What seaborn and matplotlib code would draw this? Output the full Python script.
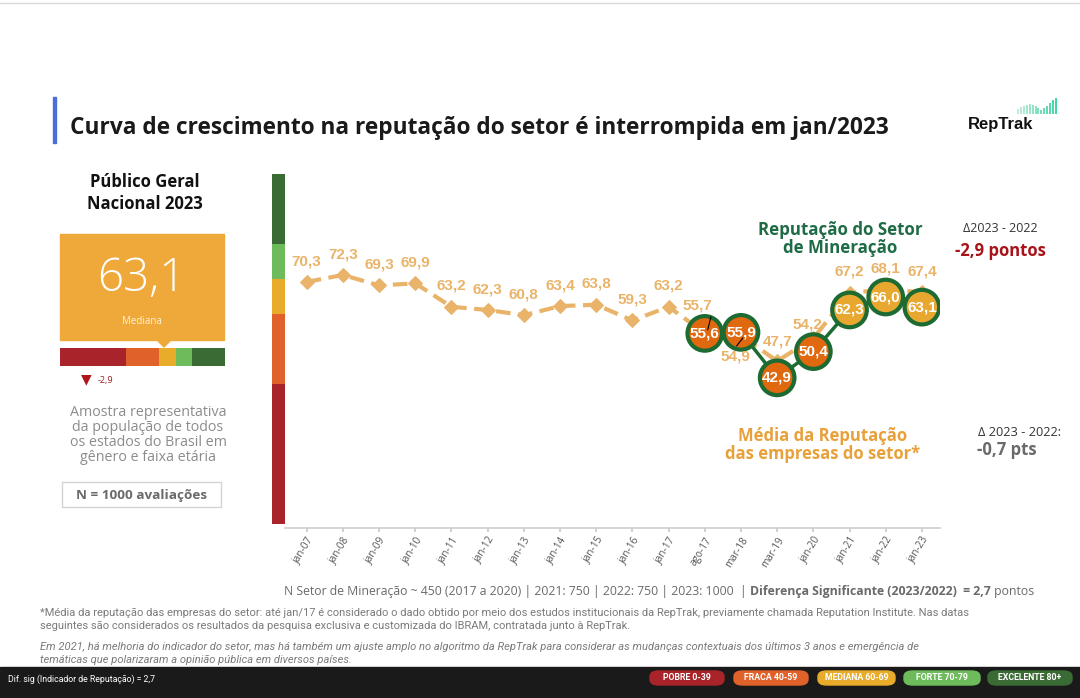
import matplotlib
matplotlib.use("Agg")
import matplotlib.pyplot as plt
import matplotlib.patches as mpatches
import seaborn as sns
import pandas as pd
import numpy as np

# ---- data ----
periods = ["jan-07", "jan-08", "jan-09", "jan-10", "jan-11", "jan-12", "jan-13",
           "jan-14", "jan-15", "jan-16", "jan-17", "ago-17", "mar-18", "mar-19",
           "jan-20", "jan-21", "jan-22", "jan-23"]
media_empresas = [70.3, 72.3, 69.3, 69.9, 63.2, 62.3, 60.8, 63.4, 63.8, 59.3,
                  63.2, 55.7, 54.9, 47.7, 54.2, 67.2, 68.1, 67.4]
setor_periods = ["ago-17", "mar-18", "mar-19", "jan-20", "jan-21", "jan-22", "jan-23"]
setor_mineracao = [55.6, 55.9, 42.9, 50.4, 62.3, 66.0, 63.1]

band_names = ["POBRE", "FRACA", "MEDIANA", "FORTE", "EXCELENTE"]
band_ranges = ["0-39", "40-59", "60-69", "70-79", "80+"]
band_low = [0, 40, 60, 70, 80]
band_high = [40, 60, 70, 80, 100]
band_colors = ["#a8232a", "#e0622a", "#e8ab2a", "#6dbb5b", "#3b6b35"]

publico_geral = 63.1
delta_publico = -2.9

TAN = "#e9b46a"
GREEN = "#1d6b32"

sns.set_theme(style="white")
plt.rcParams["font.family"] = ["Open Sans", "DejaVu Sans"]

W, H = 1080, 698
fig = plt.figure(figsize=(W / 100, H / 100), dpi=100)


def fx(px):
    return px / W


def fy(py):
    return 1 - py / H


# ---- main chart ----
ax = fig.add_axes([fx(285), fy(528), fx(655), 350 / H])
df_avg = pd.DataFrame({"pos": np.arange(len(periods)), "valor": media_empresas})
pos_lookup = {p: i for i, p in enumerate(periods)}
df_set = pd.DataFrame({"pos": [pos_lookup[p] for p in setor_periods],
                       "valor": setor_mineracao})
df_set["faixa"] = np.where(df_set["valor"] >= 60, "mediana", "fraca")

sns.lineplot(data=df_avg, x="pos", y="valor", ax=ax, color=TAN, linewidth=3,
             linestyle=(0, (3.5, 1.8)), marker="D", markersize=7,
             markeredgecolor=TAN, zorder=2)
sns.lineplot(data=df_set, x="pos", y="valor", ax=ax, color=GREEN, linewidth=2.5,
             zorder=3)
sns.scatterplot(data=df_set, x="pos", y="valor", hue="faixa", ax=ax,
                palette={"fraca": "#e0680e", "mediana": "#e8a830"}, s=620,
                edgecolor=GREEN, linewidth=3, legend=False, zorder=4)

special = {11: (-5, 15), 12: (-4, -10), 13: (0, 9), 14: (-4, 5)}
for i, v in enumerate(media_empresas):
    dx, dy = special.get(i, (0, 10))
    ax.annotate(f"{v:.1f}".replace(".", ","), (i, v), xytext=(dx, dy),
                textcoords="offset points", ha="center",
                va="bottom" if dy > 0 else "top",
                fontsize=11, fontweight="bold", color=TAN,
                family=["Liberation Sans", "DejaVu Sans"], zorder=5)

# thin leader lines from the two crowded labels into their circles
ax.plot([11.17, 11.08], [media_empresas[11] + 4.6, media_empresas[11] + 0.9],
        color="black", lw=0.8, zorder=7)
ax.plot([12.05, 11.88], [media_empresas[12] - 0.6, media_empresas[12] - 2.9],
        color="black", lw=0.8, zorder=7)

for p, v in zip(df_set["pos"], setor_mineracao):
    ax.text(p, v, f"{v:.1f}".replace(".", ","), ha="center", va="center",
            fontsize=11, fontweight="bold", color="white",
            family=["Liberation Sans", "DejaVu Sans"], zorder=8)

ax.set_xlim(-0.6, 17.5)
ax.set_ylim(0, 100)
ax.set_xticks(range(len(periods)))
ax.set_xticklabels(periods, rotation=58, ha="right", rotation_mode="anchor",
                   fontsize=7.2, color="#555555")
ax.tick_params(axis="x", length=3, color="#cccccc", pad=2, bottom=True)
ax.set_yticks([])
ax.set_xlabel("")
ax.set_ylabel("")
for s in ["top", "right", "left"]:
    ax.spines[s].set_visible(False)
ax.spines["bottom"].set_color("#d0d0d0")

# reputation scale band on the left of the chart
band_ax = fig.add_axes([fx(272), fy(524), fx(13), 350 / H])
band_ax.bar([0] * len(band_low), np.subtract(band_high, band_low), bottom=band_low,
            color=band_colors, width=1.0, linewidth=0)
band_ax.set_xlim(-0.5, 0.5)
band_ax.set_ylim(0, 100)
band_ax.axis("off")

# ---- header ----
fig.add_artist(mpatches.Rectangle((fx(53), fy(143)), fx(3), 46 / H,
                                  color="#4a6fd8", transform=fig.transFigure))
fig.add_artist(plt.Line2D([0, 1], [fy(3), fy(3)], color="#d8d8d8", linewidth=1))
fig.text(fx(70), fy(128), "Curva de crescimento na reputação do setor é interrompida em jan/2023",
         fontsize=16.3, fontweight="bold", color="#1a1a1a", va="center")
fig.text(fx(968), fy(124), "RepTrak", fontsize=12, fontweight="bold", color="#111111",
         va="center", family=["Liberation Sans", "DejaVu Sans"])
logo_ax = fig.add_axes([fx(1015), fy(114), fx(44), 17 / H])
logo_heights = [5, 7, 9, 10, 11, 10, 8, 6, 4, 6, 9, 12, 15, 17]
logo_ax.vlines(range(len(logo_heights)), 0, logo_heights,
               colors=sns.light_palette("#3fd6a0", len(logo_heights) + 4)[4:], linewidth=1.4)
logo_ax.set_xlim(-1, len(logo_heights))
logo_ax.set_ylim(0, 18)
logo_ax.axis("off")

# ---- left panel ----
fig.text(fx(145), fy(193), "Público Geral\nNacional 2023", ha="center", va="center",
         fontsize=12, fontweight="bold", color="#111111", linespacing=1.25)
fig.add_artist(mpatches.Rectangle((fx(60), fy(340)), fx(164), 106 / H,
                                  color="#efa93a", transform=fig.transFigure))
fig.add_artist(mpatches.Polygon([(fx(157), fy(340)), (fx(171), fy(340)), (fx(164), fy(347))],
                                closed=True, color="#efa93a", transform=fig.transFigure))
fig.text(fx(141), fy(279), f"{publico_geral:.1f}".replace(".", ","), ha="center",
         va="center", fontsize=33, color="white", fontweight="light")
fig.text(fx(142), fy(322), "Mediana", ha="center", va="center", fontsize=7, color="#fff3dc")

scale_ax = fig.add_axes([fx(60), fy(366), fx(165), 18 / H])
scale_ax.barh([0] * len(band_low), np.subtract(band_high, band_low), left=band_low,
              color=band_colors, height=1.0, linewidth=0)
scale_ax.set_xlim(0, 100)
scale_ax.set_ylim(-0.5, 0.5)
scale_ax.axis("off")

fig.text(fx(86), fy(380), "▼", ha="center", va="center", fontsize=10, color="#b0141c")
fig.text(fx(98), fy(381), f"{delta_publico:.1f}".replace(".", ","), ha="left",
         va="center", fontsize=6.5, color="#9a1a1a")
fig.text(fx(148), fy(435), "Amostra representativa\nda população de todos\nos estados do Brasil em\ngênero e faixa etária",
         ha="center", va="center", fontsize=10.3, color="#8c8c8c", linespacing=1.02)
fig.add_artist(mpatches.Rectangle((fx(62), fy(507)), fx(159), 25 / H, fc="white",
                                  ec="#d4d4d4", lw=1, transform=fig.transFigure))
fig.text(fx(142), fy(495), "N = 1000 avaliações", ha="center", va="center", fontsize=9.7,
         fontweight="bold", color="#6a6a6a")

# ---- right annotations ----
fig.text(fx(840), fy(239), "Reputação do Setor\nde Mineração", ha="center", va="center",
         fontsize=12.2, fontweight="bold", color="#1e6b45", linespacing=1.05)
fig.text(fx(1000), fy(228), "Δ2023 - 2022", ha="center", va="center", fontsize=9,
         color="#333333")
fig.text(fx(1000), fy(251), "-2,9 pontos", ha="center", va="center", fontsize=12,
         fontweight="bold", color="#a8131a")
fig.text(fx(823), fy(445), "Média da Reputação\ndas empresas do setor*", ha="center",
         va="center", fontsize=12, fontweight="bold", color="#e8a13a", linespacing=1.05)
fig.text(fx(1020), fy(433), "Δ 2023 - 2022:", ha="center", va="center", fontsize=9.2,
         color="#333333")
fig.text(fx(1007), fy(450), "-0,7 pts", ha="center", va="center", fontsize=12,
         fontweight="bold", color="#6a6a6a")

# ---- notes ----
NOTE = 8.8
t1 = fig.text(fx(284), fy(591), "N Setor de Mineração ~ 450 (2017 a 2020) | 2021: 750 | 2022: 750 | 2023: 1000  | ",
              va="center", fontsize=NOTE, color="#6a6a6a")
fig.canvas.draw()
bb = t1.get_window_extent()
t2 = fig.text(bb.x1 / W, fy(591), "Diferença Significante (2023/2022)  = 2,7", va="center",
              fontsize=NOTE, color="#6a6a6a", fontweight="bold")
fig.canvas.draw()
bb2 = t2.get_window_extent()
fig.text(bb2.x1 / W, fy(591), " pontos", va="center", fontsize=NOTE, color="#6a6a6a")

footnotes = [
    ("*Média da reputação das empresas do setor: até jan/17 é considerado o dado obtido por meio dos estudos institucionais da RepTrak, previamente chamada Reputation Institute. Nas datas", 613, "normal"),
    ("seguintes são considerados os resultados da pesquisa exclusiva e customizada do IBRAM, contratada junto à RepTrak.", 626, "normal"),
    ("Em 2021, há melhoria do indicador do setor, mas há também um ajuste amplo no algoritmo da RepTrak para considerar as mudanças contextuais dos últimos 3 anos e emergência de", 647, "italic"),
    ("temáticas que polarizaram a opinião pública em diversos países.", 660, "italic"),
]
for txt, ypx, st in footnotes:
    fig.text(fx(40), fy(ypx), txt, va="center", fontsize=8.0, color="#7a7a7a",
             style=st, family=["Roboto", "DejaVu Sans"])

# ---- bottom bar ----
fig.add_artist(mpatches.Rectangle((0, 0), 1, 31 / H, color="#1a1a1a",
                                  transform=fig.transFigure))
fig.text(fx(8), fy(679), "Dif. sig (Indicador de Reputação) = 2,7", va="center",
         fontsize=6.3, color="white", family=["Roboto", "DejaVu Sans"])
pill_left = [650, 734, 818, 904, 988]
pill_width = [74, 74, 77, 76, 84]
for name, rng, col, lx, w in zip(band_names, band_ranges, band_colors, pill_left, pill_width):
    fig.add_artist(mpatches.FancyBboxPatch((fx(lx), fy(685)), fx(w), 14 / H,
                                           boxstyle="round,pad=0,rounding_size=0.008",
                                           color=col, transform=fig.transFigure))
    fig.text(fx(lx + w / 2), fy(678), f"{name} {rng}", ha="center", va="center",
             fontsize=6.3, fontweight="bold", color="white",
             family=["Roboto", "DejaVu Sans"])

fig.savefig("out.png", dpi=100)
